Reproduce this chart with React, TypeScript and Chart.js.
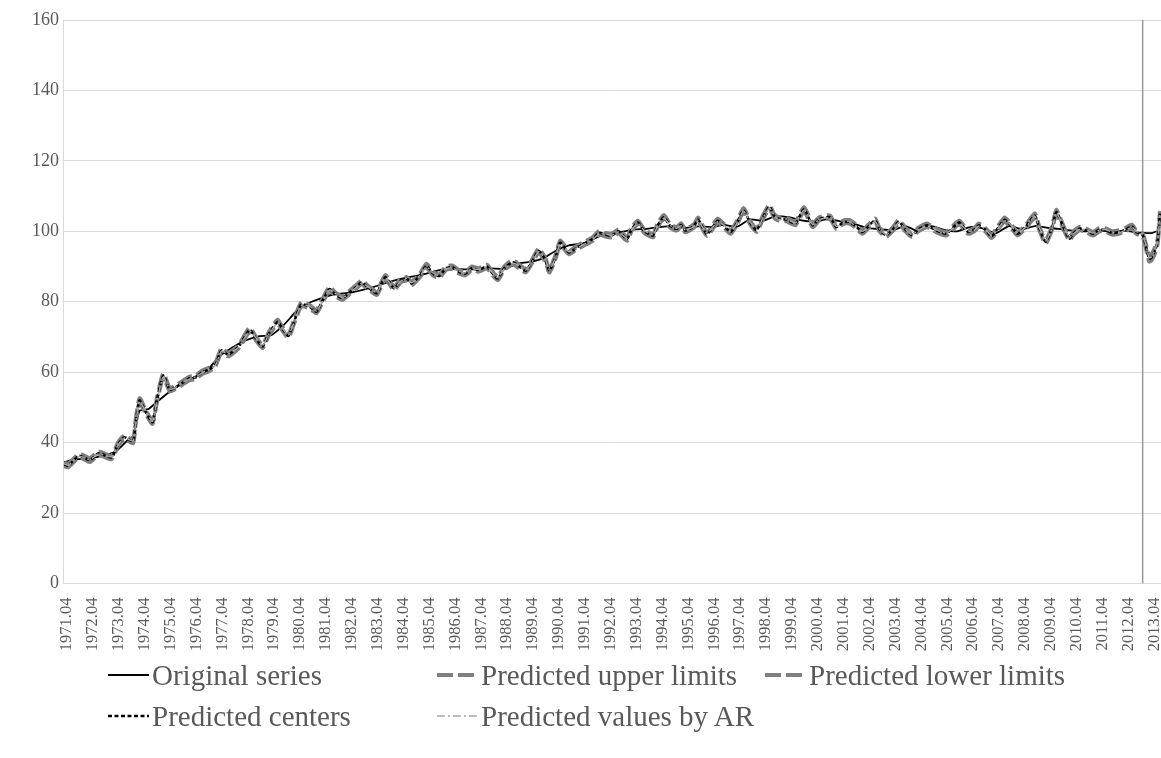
import React, { useEffect, useRef } from "react";
import { Chart, registerables } from "chart.js";

Chart.register(...registerables);

// ---------- categories (monthly, 1971.04 – 2013.08) ----------
const monthLabels: string[] = [];
for (let y = 1971; y <= 2013; y++) {
  for (let m = 1; m <= 12; m++) {
    if (y === 1971 && m < 4) continue;
    if (y === 2013 && m > 8) continue;
    monthLabels.push(`${y}.${String(m).padStart(2, "0")}`);
  }
}
// tick labels shown on the axis: every April
const tickLabels: string[] = monthLabels.filter((l) => l.endsWith(".04"));

const seriesNames = [
  "Original series",
  "Predicted upper limits",
  "Predicted lower limits",
  "Predicted centers",
  "Predicted values by AR",
];

const forecastStart = "2012.12";
const yTicks = [0, 20, 40, 60, 80, 100, 120, 140, 160];

// ---------- Original series ----------
const originalDates = [
  "1971.04","1971.10","1972.04","1972.10","1973.04","1973.10","1973.12","1974.03","1974.07","1974.10",
  "1975.04","1975.10","1976.04","1976.10","1977.04","1977.10","1978.04","1978.10","1979.04","1979.10",
  "1980.04","1980.10","1981.04","1981.10","1982.04","1982.10","1983.04","1983.10","1984.04","1984.10",
  "1985.04","1985.10","1986.04","1986.10","1987.04","1987.10","1988.04","1988.10","1989.04","1989.10",
  "1990.04","1990.10","1991.04","1991.10","1992.04","1992.10","1993.04","1993.10","1994.04","1994.10",
  "1995.04","1995.10","1996.04","1996.10","1997.04","1997.10","1998.04","1998.10","1999.04","1999.10",
  "2000.04","2000.10","2001.04","2001.10","2002.04","2002.10","2003.04","2003.10","2004.04","2004.10",
  "2005.04","2005.10","2006.04","2006.10","2007.04","2007.10","2008.04","2008.10","2009.04","2009.10",
  "2010.04","2010.10","2011.04","2011.10","2012.04","2012.10","2013.04","2013.08",
];
const originalValues = [
  34.5, 35.3, 35.5, 36.3, 37.5, 41.0, 41.8, 49.0, 49.5, 51.0,
  54.0, 56.5, 58.5, 60.3, 64.5, 67.0, 69.0, 70.2, 70.5, 73.5,
  77.5, 79.8, 81.2, 82.2, 82.5, 83.3, 84.3, 85.5, 86.5, 87.2,
  88.0, 89.0, 89.3, 89.2, 89.3, 89.5, 89.3, 90.8, 91.3, 92.3,
  94.5, 96.0, 96.5, 98.0, 99.5, 99.8, 100.5, 100.7, 101.2, 101.5,
  101.0, 101.4, 101.2, 101.8, 101.3, 103.4, 103.0, 104.3, 104.0, 103.1,
  102.7, 103.5, 102.8, 102.2, 101.0, 100.6, 100.3, 101.5, 100.0, 101.5,
  100.4, 100.0, 101.2, 100.8, 99.5, 101.5, 100.6, 101.5, 101.0, 100.6,
  100.2, 100.0, 100.3, 99.8, 100.1, 99.6, 99.5, 100.3,
];

// ---------- Predicted series (shared dates) ----------
const predictedDates = [
  "1971.04","1971.06","1971.11","1972.04","1972.08","1973.02","1973.05","1973.08","1973.12","1974.01",
  "1974.03","1974.06","1974.09","1974.11","1975.02","1975.05","1975.07","1975.11","1976.02","1976.05",
  "1976.08","1976.11","1977.02","1977.05","1977.08","1978.01","1978.06","1978.09","1978.12","1979.03",
  "1979.07","1979.09","1979.12","1980.03","1980.06","1980.10","1981.01","1981.04","1981.07","1981.10",
  "1982.01","1982.04","1982.07","1982.10","1983.01","1983.05","1983.07","1983.09","1984.01","1984.04",
  "1984.07","1984.09","1985.01","1985.04","1985.07","1985.10","1986.01","1986.04","1986.07","1986.10",
  "1987.01","1987.04","1987.08","1987.10","1988.01","1988.04","1988.08","1988.11","1989.02","1989.05",
  "1989.08","1989.11","1990.01","1990.04","1990.06","1990.10","1991.02","1991.06","1991.09","1991.12",
  "1992.03","1992.06","1992.09","1993.01","1993.03","1993.06","1993.09","1994.01","1994.03","1994.06",
  "1994.09","1994.12","1995.02","1995.04","1995.08","1995.10","1996.02","1996.07","1996.10","1997.01",
  "1997.04","1997.07","1997.10","1998.01","1998.04","1998.07","1998.09","1998.11","1999.03","1999.07",
  "1999.11","2000.03","2000.06","2000.11","2001.02","2001.05","2001.08","2001.11","2002.02","2002.05",
  "2002.08","2002.10","2003.01","2003.04","2003.07","2003.10","2004.01","2004.04","2004.08","2004.10",
  "2005.02","2005.05","2005.08","2005.11","2006.03","2006.06","2006.08","2006.11","2007.02","2007.05",
  "2007.08","2007.11","2008.02","2008.06","2008.10","2008.12","2009.03","2009.06","2009.08","2009.11",
  "2010.02","2010.04","2010.07","2010.10","2011.01","2011.04","2011.07","2011.10","2012.01","2012.04",
  "2012.07","2012.09","2012.12","2013.02","2013.03","2013.04","2013.06","2013.07","2013.08",
];
const centerValues = [
  33.8, 33.5, 36.3, 35.0, 37.0, 35.8, 39.5, 41.5, 40.3, 45.0,
  52.0, 48.5, 45.8, 52.0, 59.0, 55.0, 55.5, 57.0, 58.2, 58.5,
  60.0, 60.7, 62.0, 66.2, 65.0, 67.3, 72.0, 69.5, 67.3, 71.0,
  74.3, 72.5, 70.3, 75.0, 79.3, 78.5, 77.2, 80.5, 83.6, 82.0,
  81.0, 82.5, 84.0, 85.5, 84.0, 82.4, 85.0, 87.0, 83.8, 86.0,
  86.5, 85.2, 87.5, 90.2, 88.0, 87.3, 89.5, 89.8, 88.5, 88.0,
  89.5, 89.0, 90.0, 88.5, 86.6, 89.5, 91.2, 90.0, 88.8, 91.5,
  94.5, 92.0, 88.8, 93.0, 96.8, 94.0, 95.5, 96.8, 97.8, 99.6,
  99.0, 98.8, 100.0, 97.8, 100.5, 102.5, 100.0, 98.8, 101.5, 104.0,
  101.5, 100.7, 101.8, 100.2, 101.5, 103.3, 99.2, 103.0, 101.5, 99.8,
  102.5, 106.0, 102.5, 100.3, 104.0, 107.0, 104.5, 103.6, 103.3, 102.2,
  106.3, 101.7, 103.5, 104.0, 101.2, 102.5, 102.7, 101.5, 99.8, 101.5,
  103.1, 100.5, 98.9, 100.5, 102.7, 100.5, 98.9, 100.5, 101.7, 101.0,
  99.8, 99.3, 101.0, 102.5, 99.8, 100.5, 101.7, 100.5, 98.6, 101.0,
  103.3, 101.5, 99.3, 101.5, 104.5, 101.0, 97.0, 101.0, 105.5, 101.5,
  97.9, 99.5, 100.8, 100.2, 99.3, 100.5, 100.3, 99.5, 99.8, 100.5,
  101.4, 99.8, 98.9, 94.5, 92.2, 92.5, 95.0, 97.4, 105.0,
];
const upperValues = [
  34.3, 34.0, 36.8, 35.6, 37.5, 36.3, 40.0, 42.0, 40.8, 45.6,
  52.6, 49.0, 46.3, 52.6, 59.6, 55.5, 56.0, 57.5, 58.7, 59.0,
  60.5, 61.2, 62.5, 66.8, 65.5, 67.8, 72.6, 70.0, 67.8, 71.5,
  74.9, 73.0, 70.8, 75.6, 79.9, 79.0, 77.7, 81.0, 84.2, 82.5,
  81.5, 83.0, 84.5, 86.0, 84.5, 82.9, 85.5, 87.6, 84.3, 86.5,
  87.0, 85.7, 88.0, 90.8, 88.5, 87.8, 90.0, 90.3, 89.0, 88.5,
  90.0, 89.5, 90.5, 89.0, 87.1, 90.0, 91.8, 90.5, 89.3, 92.0,
  95.1, 92.5, 89.3, 93.5, 97.4, 94.5, 96.0, 97.3, 98.3, 100.1,
  99.5, 99.3, 100.5, 98.3, 101.0, 103.0, 100.5, 99.3, 102.0, 104.6,
  102.0, 101.2, 102.3, 100.7, 102.0, 103.9, 99.7, 103.6, 102.0, 100.3,
  103.0, 106.6, 103.0, 100.8, 104.5, 107.6, 105.0, 104.1, 103.8, 102.7,
  106.9, 102.2, 104.0, 104.5, 101.7, 103.0, 103.2, 102.0, 100.3, 102.0,
  103.6, 101.0, 99.4, 101.0, 103.2, 101.0, 99.4, 101.0, 102.2, 101.5,
  100.3, 99.8, 101.5, 103.0, 100.3, 101.0, 102.2, 101.0, 99.1, 101.5,
  103.9, 102.0, 99.8, 102.0, 105.1, 101.5, 97.5, 101.5, 106.1, 102.0,
  98.4, 100.0, 101.3, 100.7, 99.8, 101.0, 100.8, 100.0, 100.3, 101.0,
  101.9, 100.3, 99.4, 95.2, 93.0, 93.3, 95.8, 98.1, 105.8,
];
const lowerValues = [
  33.3, 33.0, 35.8, 34.5, 36.5, 35.3, 39.0, 41.0, 39.8, 44.5,
  51.4, 48.0, 45.3, 51.4, 58.4, 54.5, 55.0, 56.5, 57.7, 58.0,
  59.5, 60.2, 61.5, 65.6, 64.5, 66.8, 71.4, 69.0, 66.8, 70.5,
  73.7, 72.0, 69.8, 74.4, 78.7, 78.0, 76.7, 80.0, 83.0, 81.5,
  80.5, 82.0, 83.5, 85.0, 83.5, 81.9, 84.5, 86.4, 83.3, 85.5,
  86.0, 84.7, 87.0, 89.6, 87.5, 86.8, 89.0, 89.3, 88.0, 87.5,
  89.0, 88.5, 89.5, 88.0, 86.1, 89.0, 90.6, 89.5, 88.3, 91.0,
  93.9, 91.5, 88.3, 92.5, 96.2, 93.5, 95.0, 96.3, 97.3, 99.1,
  98.5, 98.3, 99.5, 97.3, 100.0, 102.0, 99.5, 98.3, 101.0, 103.4,
  101.0, 100.2, 101.3, 99.7, 101.0, 102.7, 98.7, 102.4, 101.0, 99.3,
  102.0, 105.4, 102.0, 99.8, 103.5, 106.4, 104.0, 103.1, 102.8, 101.7,
  105.7, 101.2, 103.0, 103.5, 100.7, 102.0, 102.2, 101.0, 99.3, 101.0,
  102.6, 100.0, 98.4, 100.0, 102.2, 100.0, 98.4, 100.0, 101.2, 100.5,
  99.3, 98.8, 100.5, 102.0, 99.3, 100.0, 101.2, 100.0, 98.1, 100.5,
  102.7, 101.0, 98.8, 101.0, 103.9, 100.5, 96.5, 100.5, 104.9, 101.0,
  97.4, 99.0, 100.3, 99.7, 98.8, 100.0, 99.8, 99.0, 99.3, 100.0,
  100.9, 99.3, 98.4, 93.8, 91.4, 91.7, 94.2, 96.7, 104.2,
];
const arValues = [
  34.0, 33.6, 36.1, 35.2, 36.8, 36.0, 39.3, 41.3, 40.5, 44.7,
  51.6, 48.7, 46.1, 51.7, 58.6, 55.2, 55.4, 57.1, 58.0, 58.7,
  59.8, 60.9, 61.8, 66.0, 65.2, 67.1, 71.7, 69.7, 67.5, 70.8,
  74.0, 72.7, 70.5, 74.8, 79.0, 78.7, 77.4, 80.3, 83.3, 82.2,
  81.2, 82.3, 83.8, 85.3, 84.2, 82.6, 84.8, 86.7, 84.0, 85.8,
  86.7, 85.4, 87.3, 89.9, 88.2, 87.5, 89.3, 89.6, 88.7, 88.2,
  89.3, 89.2, 89.8, 88.7, 86.9, 89.3, 90.9, 90.2, 89.0, 91.3,
  94.2, 92.2, 89.1, 92.8, 96.5, 94.2, 95.3, 96.6, 97.6, 99.3,
  99.2, 98.9, 99.8, 98.0, 100.3, 102.2, 100.2, 99.0, 101.3, 103.7,
  101.7, 100.9, 101.6, 100.4, 101.3, 103.0, 99.5, 102.7, 101.7, 100.0,
  102.3, 105.7, 102.7, 100.5, 103.8, 106.7, 104.7, 103.4, 103.5, 102.4,
  106.0, 101.9, 103.3, 103.8, 101.4, 102.3, 102.9, 101.3, 100.0, 101.3,
  102.8, 100.7, 99.1, 100.3, 102.5, 100.7, 99.1, 100.3, 101.5, 101.2,
  100.0, 99.5, 100.8, 102.2, 100.0, 100.3, 101.5, 100.7, 98.8, 100.8,
  103.0, 101.7, 99.5, 101.3, 104.2, 101.2, 97.3, 100.8, 105.2, 101.7,
  98.2, 99.3, 100.6, 100.4, 99.5, 100.3, 100.5, 99.7, 99.6, 100.3,
  101.2, 100.0, 99.1, 94.8, 92.5, 92.7, 95.3, 97.2, 104.6,
];

// ---------- styling (kept apart from the data) ----------
const FONT = "'Liberation Serif', 'Times New Roman', serif";
const TEXT = "#595959";
const GRID = "#d9d9d9";

type Style = { color: string; width: number; dash: number[] };
const styles: Style[] = [
  { color: "#000000", width: 1.8, dash: [] },
  { color: "#7f7f7f", width: 4, dash: [16, 5] },
  { color: "#7f7f7f", width: 4, dash: [16, 5] },
  { color: "#000000", width: 2.5, dash: [4, 2.5] },
  { color: "#a6a6a6", width: 1.5, dash: [8, 3, 2, 3] },
];

const pairs = (dates: string[], values: number[]) =>
  dates.map((d, i) => ({ x: d, y: values[i] }));

const legendLayout = [
  { series: 0, left: 108, top: 658 },
  { series: 1, left: 437, top: 658 },
  { series: 2, left: 765, top: 658 },
  { series: 3, left: 108, top: 699 },
  { series: 4, left: 437, top: 699 },
];

function LegendSample({ s }: { s: Style }) {
  return (
    <svg width={41} height={12} style={{ display: "block", marginRight: 3 }}>
      <line
        x1={0}
        y1={6}
        x2={41}
        y2={6}
        stroke={s.color}
        strokeWidth={s.width}
        strokeDasharray={s.dash.length ? s.dash.join(" ") : undefined}
      />
    </svg>
  );
}

export default function App() {
  const canvasRef = useRef<HTMLCanvasElement | null>(null);

  useEffect(() => {
    const canvas = canvasRef.current;
    if (!canvas) return;
    const seriesData = [
      pairs(originalDates, originalValues),
      pairs(predictedDates, upperValues),
      pairs(predictedDates, lowerValues),
      pairs(predictedDates, centerValues),
      pairs(predictedDates, arValues),
    ];
    const drawOrder = [5, 4, 3, 2, 1];
    const datasets: any[] = seriesData.map((data, i) => ({
      label: seriesNames[i],
      data,
      borderColor: styles[i].color,
      borderWidth: styles[i].width,
      borderDash: styles[i].dash,
      borderCapStyle: "butt",
      borderJoinStyle: "round",
      pointRadius: 0,
      tension: 0.2,
      fill: false,
      order: drawOrder[i],
    }));
    datasets.push({
      label: "forecast start",
      data: [
        { x: forecastStart, y: yTicks[0] },
        { x: forecastStart, y: yTicks[yTicks.length - 1] },
      ],
      borderColor: "#9a9a9a",
      borderWidth: 1.5,
      pointRadius: 0,
      fill: false,
      order: 6,
    });

    const tickSet = new Set(tickLabels);
    const chart = new Chart(canvas, {
      type: "line",
      data: { labels: monthLabels, datasets },
      options: {
        animation: false,
        responsive: false,
        maintainAspectRatio: false,
        layout: { padding: { top: 20, left: 0, right: 0, bottom: 0 } },
        plugins: { legend: { display: false }, tooltip: { enabled: false } },
        scales: {
          x: {
            type: "category",
            offset: true,
            grid: { display: false, drawTicks: false },
            border: { display: true, color: GRID, width: 1 },
            ticks: {
              autoSkip: false,
              minRotation: 90,
              maxRotation: 90,
              padding: 14,
              labelOffset: 3,
              color: TEXT,
              font: { family: FONT, size: 16.5 },
            },
            afterBuildTicks: (scale: any) => {
              scale.ticks = scale.ticks.filter((t: any) =>
                tickSet.has(monthLabels[t.value])
              );
            },
            afterFit: (scale: any) => {
              scale.height = 174.5;
              scale.paddingLeft = 0;
              scale.paddingRight = 0;
            },
          },
          y: {
            min: yTicks[0],
            max: yTicks[yTicks.length - 1],
            grid: { color: GRID, lineWidth: 1, drawTicks: false },
            border: { display: true, color: GRID, width: 1 },
            ticks: {
              stepSize: 20,
              padding: 4,
              color: TEXT,
              font: { family: FONT, size: 18 },
            },
            afterFit: (scale: any) => {
              scale.width = 63;
            },
          },
        },
      },
    });
    return () => chart.destroy();
  }, []);

  return (
    <div
      style={{
        position: "fixed",
        left: 0,
        top: 0,
        width: 1161,
        height: 758,
        overflow: "hidden",
        background: "#ffffff",
      }}
    >
      <canvas
        ref={canvasRef}
        width={1161}
        height={758}
        style={{ position: "absolute", left: 0, top: 0, width: 1161, height: 758 }}
      />
      {legendLayout.map((item) => (
        <div
          key={item.series}
          style={{
            position: "absolute",
            left: item.left,
            top: item.top,
            height: 34,
            display: "flex",
            alignItems: "center",
            fontFamily: FONT,
            fontSize: 29,
            color: TEXT,
            whiteSpace: "nowrap",
            lineHeight: "34px",
          }}
        >
          <LegendSample s={styles[item.series]} />
          <span>{seriesNames[item.series]}</span>
        </div>
      ))}
    </div>
  );
}
